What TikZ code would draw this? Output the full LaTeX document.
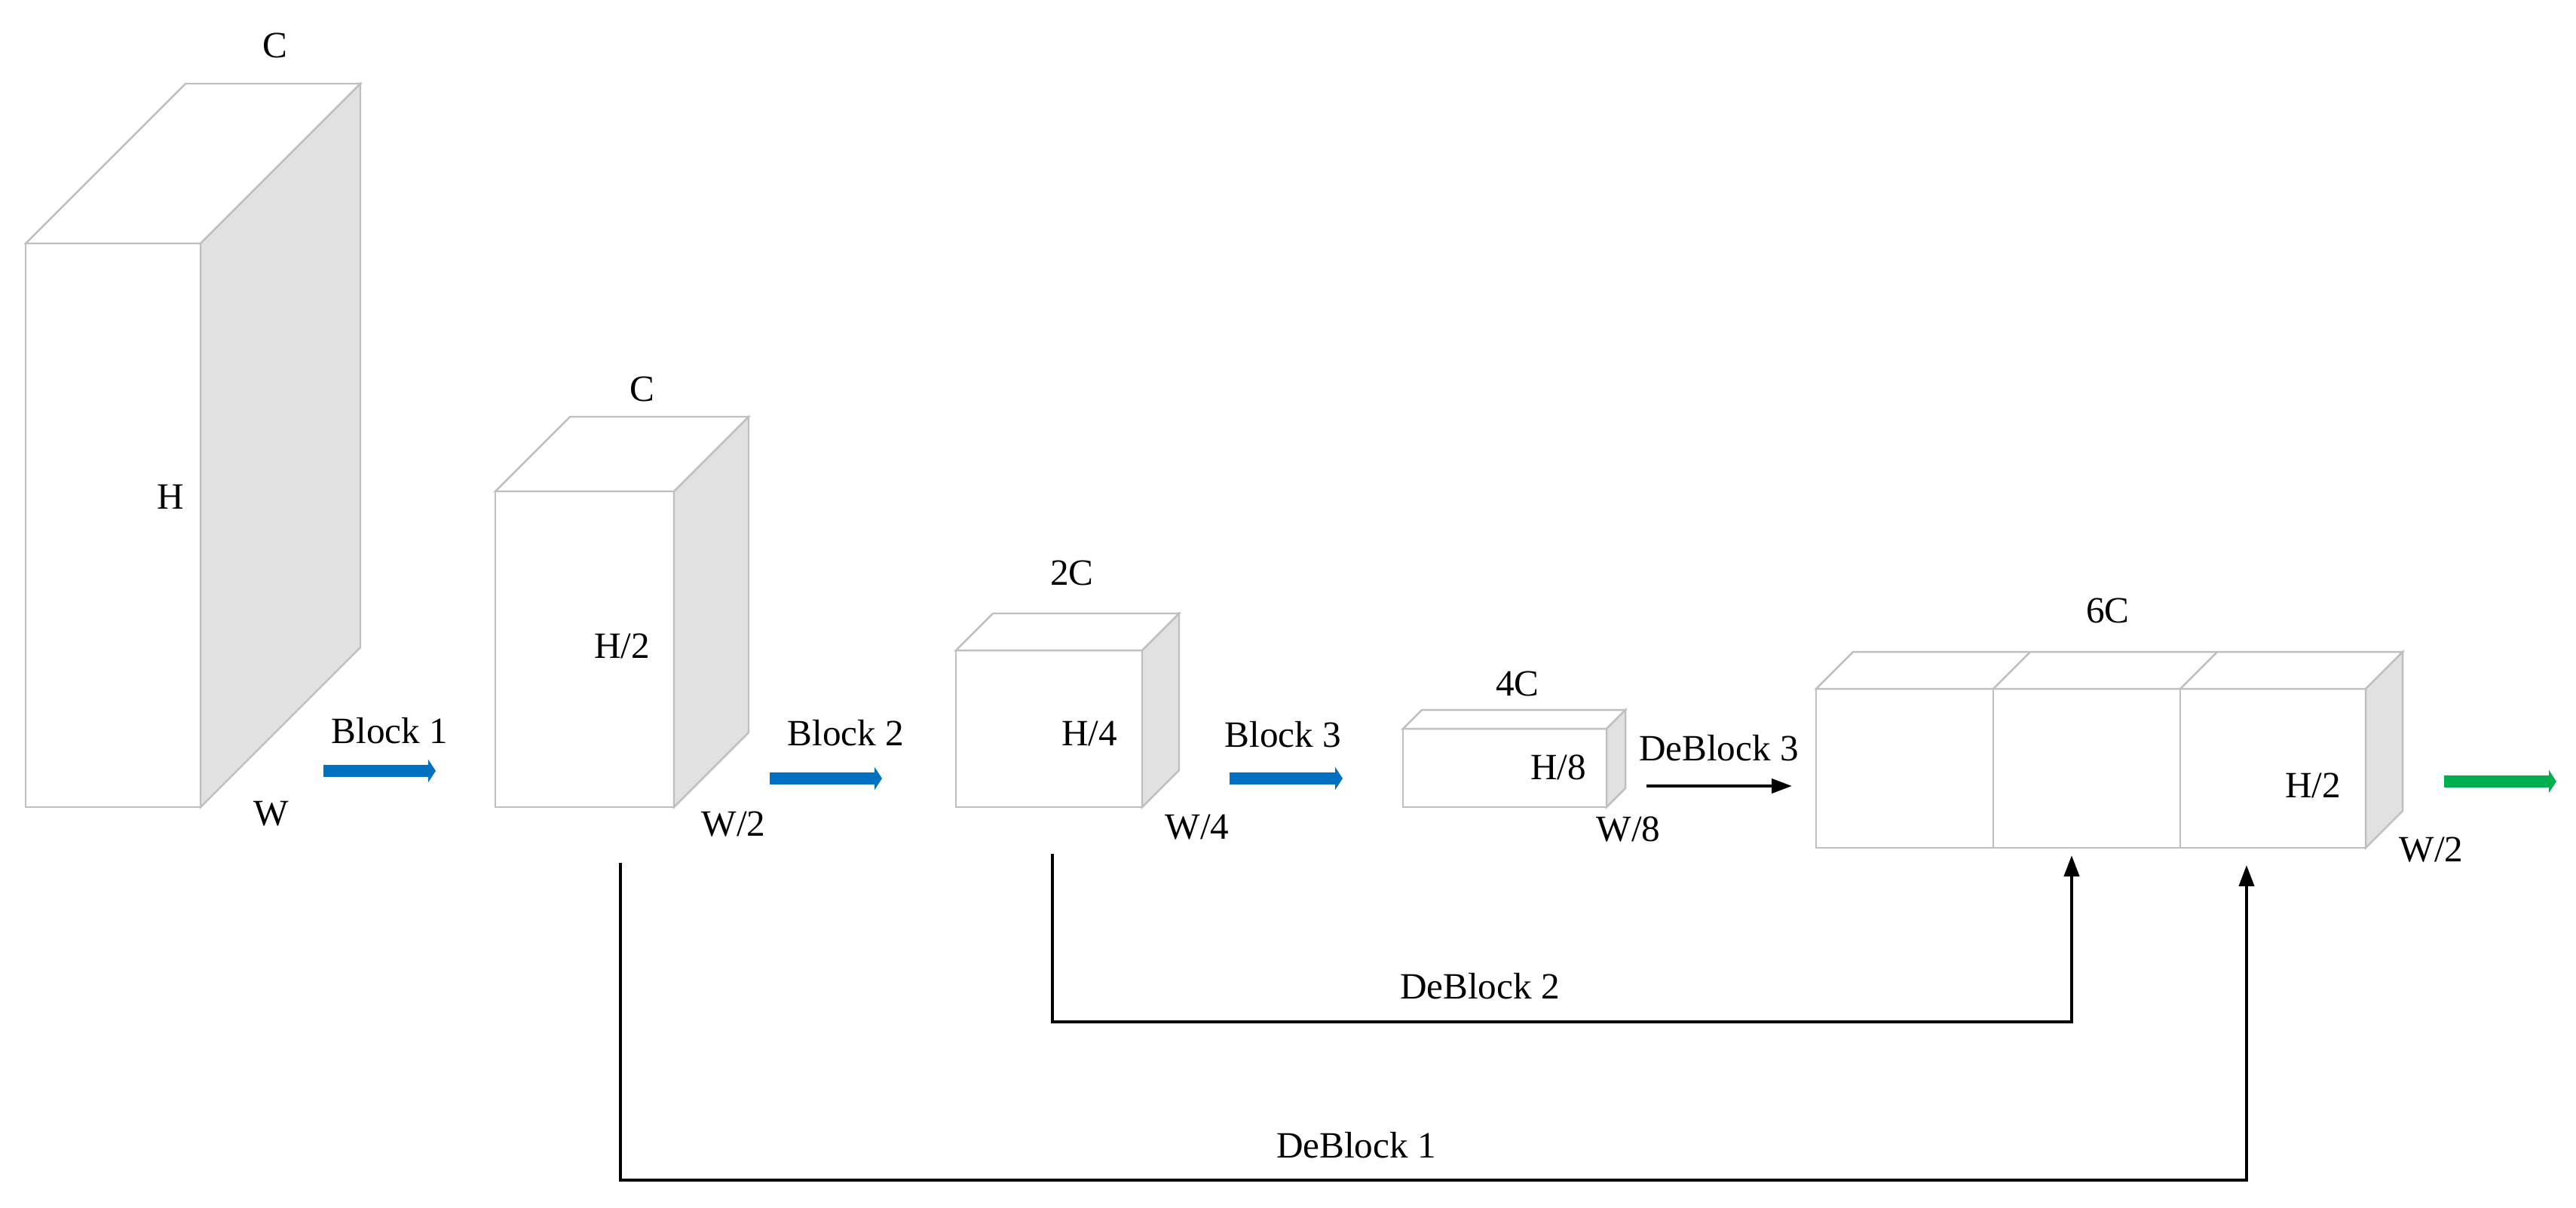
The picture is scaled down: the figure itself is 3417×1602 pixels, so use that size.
\documentclass[tikz,border=0pt]{standalone}
\usepackage{fontspec}
\setmainfont{Liberation Serif}
\usetikzlibrary{arrows.meta}
\definecolor{edgegrey}{HTML}{BFBFBF}
\definecolor{sidegrey}{HTML}{E1E1E1}
\definecolor{flowblue}{HTML}{0070C0}
\definecolor{flowgreen}{HTML}{00B050}
\newcommand{\mycuboid}[5]{%
  \filldraw[cubeline, fill=white] (#1,#2) rectangle (#3,#4);
  \filldraw[cubeline, fill=white] (#1,#2) -- ({#1+#5},{#2-#5}) -- ({#3+#5},{#2-#5}) -- (#3,#2) -- cycle;
  \filldraw[cubeline, fill=sidegrey] (#3,#2) -- ({#3+#5},{#2-#5}) -- ({#3+#5},{#4-#5}) -- (#3,#4) -- cycle;
}
\begin{document}
\begin{tikzpicture}[x=0.01cm, y=-0.01cm,
  cubeline/.style={draw=edgegrey, line width=0.7pt},
  lbl/.style={inner sep=0pt, font=\fontsize{14}{16}\selectfont},
  fatarrow/.style={line width=0.16cm, -{Triangle[length=0.1cm, width=0.3cm]}},
  skip/.style={black, line width=0.04cm, line join=miter, -{Triangle[length=0.28cm, width=0.2cm]}}]
\useasboundingbox (0,0) rectangle (3417,1602);

% cuboids
\mycuboid{34}{323}{266}{1071}{212}
\mycuboid{657}{652}{894}{1071}{99}
\mycuboid{1268}{863}{1515}{1071}{49}
\mycuboid{1861}{967}{2131}{1071}{25}
\mycuboid{2409}{914}{3138}{1125}{49}
\draw[cubeline] (2644,914) -- (2644,1125);
\draw[cubeline] (2892,914) -- (2892,1125);
\draw[cubeline] (2644,914) -- (2693,865);
\draw[cubeline] (2892,914) -- (2941,865);

% labels
\node[lbl] (c1) at (365,60) {C};
\node[lbl] (h1) at (226,659) {H};
\node[lbl] (w1) at (360,1080) {W};
\node[lbl] (c2) at (852,516) {C};
\node[lbl] (h2) at (825,857) {H/2};
\node[lbl] (w2) at (973,1094) {W/2};
\node[lbl] (c3) at (1422,760) {2C};
\node[lbl] (h3) at (1445,973) {H/4};
\node[lbl] (w3) at (1588,1098) {W/4};
\node[lbl] (c4) at (2013,907) {4C};
\node[lbl] (h4) at (2067,1018) {H/8};
\node[lbl] (w4) at (2160,1100) {W/8};
\node[lbl] (c5) at (2796,810) {6C};
\node[lbl] (h5) at (3068,1042) {H/2};
\node[lbl] (w5) at (3225,1128) {W/2};

\node[lbl] (b1) at (517,970) {Block 1};
\node[lbl] (b2) at (1122,973) {Block 2};
\node[lbl] (b3) at (1702,975) {Block 3};
\node[lbl] (db3) at (2280,993) {DeBlock 3};
\node[lbl] (db2) at (1963,1309) {DeBlock 2};
\node[lbl] (db1) at (1799,1520) {DeBlock 1};

% flow arrows
\coordinate (a1s) at (429,1023); \coordinate (a1e) at (578,1023);
\coordinate (a2s) at (1021,1033); \coordinate (a2e) at (1170,1033);
\coordinate (a3s) at (1631,1033); \coordinate (a3e) at (1781,1033);
\coordinate (a4s) at (3242,1037); \coordinate (a4e) at (3391,1037);
\draw[fatarrow, flowblue] (a1s) -- (a1e);
\draw[fatarrow, flowblue] (a2s) -- (a2e);
\draw[fatarrow, flowblue] (a3s) -- (a3e);
\draw[fatarrow, flowgreen] (a4s) -- (a4e);

\coordinate (d3s) at (2184,1043); \coordinate (d3e) at (2377,1043);
\draw[black, line width=0.04cm, -{Triangle[length=0.27cm, width=0.19cm]}] (d3s) -- (d3e);

% skip connections
\coordinate (s2) at (1396,1133);
\coordinate (t2) at (2748,1135);
\coordinate (s1) at (823,1145);
\coordinate (t1) at (2980,1148);
\draw[skip] (s2) -- (1396,1356) -- (2748,1356) -- (t2);
\draw[skip] (s1) -- (823,1566) -- (2980,1566) -- (t1);
\end{tikzpicture}
\end{document}
